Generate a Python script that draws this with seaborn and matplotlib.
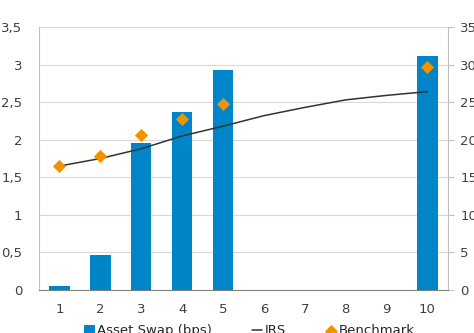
import numpy as np
import pandas as pd
import matplotlib
matplotlib.use("Agg")
import matplotlib.pyplot as plt
from matplotlib.ticker import FuncFormatter
import seaborn as sns

# ---- data ----
maturities = ["1", "2", "3", "4", "5", "6", "7", "8", "9", "10"]
asset_swap_bps = [0.5, 4.7, 19.6, 23.7, 29.3, 0, 0, 0, 0, 31.2]
irs = [1.65, 1.75, 1.88, 2.05, 2.18, 2.32, 2.43, 2.53, 2.59, 2.64]
benchmark = [1.65, 1.79, 2.06, 2.28, 2.48, np.nan, np.nan, np.nan, np.nan, 2.97]

left_ticks = [0, 0.5, 1, 1.5, 2, 2.5, 3, 3.5]
right_ticks = [0, 5, 10, 15, 20, 25, 30, 35]

blue = "#0085C8"
orange = "#F39200"
dark = "#333333"

sns.set_style("white")
plt.rcParams["font.family"] = ["DejaVu Sans"]
plt.rcParams["font.size"] = 9.5

df = pd.DataFrame({"mat": maturities, "asw": asset_swap_bps,
                   "irs": irs, "bench": benchmark})
df["pos"] = np.arange(len(df))

fig = plt.figure(figsize=(4.74, 3.33), dpi=100)
ax = fig.add_axes([0.0823, 0.129, 0.8627, 0.79])
ax2 = ax.twinx()

# bars on the right (bps) axis, drawn underneath
sns.barplot(data=df, x="pos", y="asw", ax=ax2, color=blue, width=0.5,
            linewidth=0, saturation=1, native_scale=True,
            label="Asset Swap (bps)", zorder=2)
ax2.set_ylim(0, 35)
ax2.set_yticks(right_ticks)
ax2.set_ylabel("")
ax2.grid(axis="y", color="#D9D9D9", linewidth=0.8, zorder=0)
ax2.set_axisbelow(True)

# line and diamonds on the left axis, drawn on top
ax.set_zorder(ax2.get_zorder() + 1)
ax.patch.set_visible(False)
sns.lineplot(data=df, x="pos", y="irs", ax=ax, color=dark, linewidth=1.1,
             label="IRS")
sns.scatterplot(data=df, x="pos", y="bench", ax=ax, color=orange, marker="D",
                s=45, linewidth=0, label="Benchmark", zorder=5)
ax.set_ylim(0, 3.5)
ax.set_yticks(left_ticks)
ax.yaxis.set_major_formatter(FuncFormatter(
    lambda v, p: (f"{v:g}").replace(".", ",")))
ax.set_xlim(-0.5, len(maturities) - 0.5)
ax.set_xticks(df["pos"])
ax.set_xticklabels(maturities)
ax.set_xticks(np.arange(-0.5, len(maturities)), minor=True)
ax.set_xlabel("")
ax.set_ylabel("")

ax.tick_params(axis="x", which="major", length=0, pad=9, colors="#404040")
ax.tick_params(axis="x", which="minor", length=5, color="#808080", width=0.8)
ax.tick_params(axis="y", length=0, pad=12, colors="#404040")
ax2.tick_params(axis="y", length=4, color="#BFBFBF", pad=5, colors="#404040")

for a in (ax, ax2):
    a.spines["top"].set_visible(False)
ax.spines["left"].set_color("#BFBFBF")
ax.spines["right"].set_visible(False)
ax.spines["bottom"].set_color("#808080")
ax2.spines["right"].set_color("#BFBFBF")
ax2.spines["left"].set_visible(False)
ax2.spines["bottom"].set_visible(False)

# combined legend below the plot (cut at the bottom edge like the original)
h1, l1 = ax2.get_legend_handles_labels()
h2, l2 = ax.get_legend_handles_labels()
if ax2.get_legend():
    ax2.get_legend().remove()
ax.legend(h1 + h2, l1 + l2, loc="upper center", bbox_to_anchor=(0.515, -0.085),
          ncol=3, frameon=False, handlelength=0.8, handletextpad=0.2,
          columnspacing=3.0, fontsize=9.5)

fig.savefig("out.png", dpi=100)
